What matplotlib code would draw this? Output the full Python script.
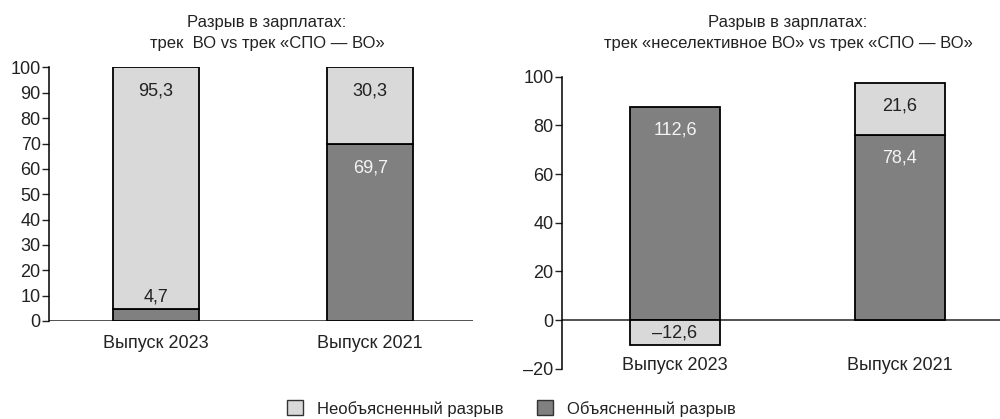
import matplotlib
matplotlib.use("Agg")
import matplotlib.pyplot as plt
from matplotlib.patches import Patch
from matplotlib.ticker import FuncFormatter

plt.rcParams['font.family'] = ['Liberation Sans Narrow', 'Liberation Sans', 'DejaVu Sans']

# данные
categories = ["Выпуск 2023", "Выпуск 2021"]

# левая панель: ВО vs «СПО — ВО» (доли, %)
left_explained = [4.7, 69.7]
left_unexplained = [95.3, 30.3]
left_expl_lbl = ["4,7", "69,7"]
left_unexp_lbl = ["95,3", "30,3"]

# правая панель: высоты столбцов (по шкале) и подписи (доли, %)
right_explained = [87.7, 76.2]
right_unexplained = [-10.3, 21.3]
right_expl_lbl = ["112,6", "78,4"]
right_unexp_lbl = ["–12,6", "21,6"]

titles = ["Разрыв в зарплатах:\nтрек  ВО vs трек «СПО — ВО»",
          "Разрыв в зарплатах:\nтрек «неселективное ВО» vs трек «СПО — ВО»"]
legend_labels = ["Необъясненный разрыв", "Объясненный разрыв"]

LIGHT = "#d9d9d9"
DARK = "#808080"
FS = 13


def fmt(v, pos):
    return ("–%d" % abs(v)) if v < 0 else "%d" % v


def draw(ax, expl, unexp, expl_lbl, unexp_lbl, ylim, step, xlim):
    x = range(len(categories))
    bottoms = [0 if u < 0 else e for e, u in zip(expl, unexp)]
    ax.bar(x, expl, width=0.4, color=DARK, edgecolor="black", linewidth=1.3, zorder=2)
    ax.bar(x, unexp, width=0.4, bottom=bottoms, color=LIGHT, edgecolor="black",
           linewidth=1.3, zorder=2)
    for i in x:
        e, u = expl[i], unexp[i]
        # подпись объясненной части
        if e > 15:
            ax.annotate(expl_lbl[i], (i, e), xytext=(0, -17), textcoords="offset points",
                        ha="center", va="center", fontsize=FS, color="#f4f4f4", zorder=3)
        else:
            ax.annotate(expl_lbl[i], (i, e), xytext=(0, 9), textcoords="offset points",
                        ha="center", va="center", fontsize=FS, color="#222222", zorder=3)
        # подпись необъясненной части
        if u < 0:
            ax.text(i, u / 2, unexp_lbl[i], ha="center", va="center", fontsize=FS,
                    color="#222222", zorder=3)
        else:
            ax.annotate(unexp_lbl[i], (i, bottoms[i] + u), xytext=(0, -17),
                        textcoords="offset points", ha="center", va="center",
                        fontsize=FS, color="#222222", zorder=3)
    ax.set_xlim(*xlim)
    ax.set_ylim(*ylim)
    ax.set_yticks(range(ylim[0], ylim[1] + 1, step))
    ax.yaxis.set_major_formatter(FuncFormatter(fmt))
    ax.tick_params(axis="y", direction="out", length=5, width=1, labelsize=FS,
                   pad=1, colors="#222222")
    ax.set_xticks([])
    for s in ["top", "right", "bottom"]:
        ax.spines[s].set_visible(False)
    ax.spines["left"].set_linewidth(1.1)
    ax.axhline(0, color="#222222", linewidth=1.1, zorder=1)


fig = plt.figure(figsize=(10, 4.19), dpi=100)
ax1 = fig.add_axes([0.049, 0.234, 0.424, 0.605])
ax2 = fig.add_axes([0.562, 0.120, 0.438, 0.697])

draw(ax1, left_explained, left_unexplained, left_expl_lbl, left_unexp_lbl,
     (0, 100), 10, (-0.5, 1.48))
draw(ax2, right_explained, right_unexplained, right_expl_lbl, right_unexp_lbl,
     (-20, 100), 20, (-0.503, 1.446))

for i, c in enumerate(categories):
    ax1.annotate(c, (i, 0), xytext=(0, -16), textcoords="offset points",
                 ha="center", va="center", fontsize=FS, color="#222222")
    ax2.annotate(c, (i, -20), xytext=(0, 2), textcoords="offset points",
                 ha="center", va="center", fontsize=FS, color="#222222")

fig.text(0.267, 0.921, titles[0], ha="center", va="center", fontsize=12,
         color="#222222", linespacing=1.45)
fig.text(0.788, 0.921, titles[1], ha="center", va="center", fontsize=12,
         color="#222222", linespacing=1.45)

handles = [Patch(facecolor=LIGHT, edgecolor="#333333", linewidth=1),
           Patch(facecolor=DARK, edgecolor="#333333", linewidth=1)]
fig.legend(handles, legend_labels, loc="center", bbox_to_anchor=(0.511, 0.025), ncol=2,
           frameon=False, fontsize=12, handlelength=1.0, handleheight=1.0,
           handletextpad=0.8, columnspacing=2.0, labelcolor="#222222")

fig.savefig("out.png", dpi=100)
